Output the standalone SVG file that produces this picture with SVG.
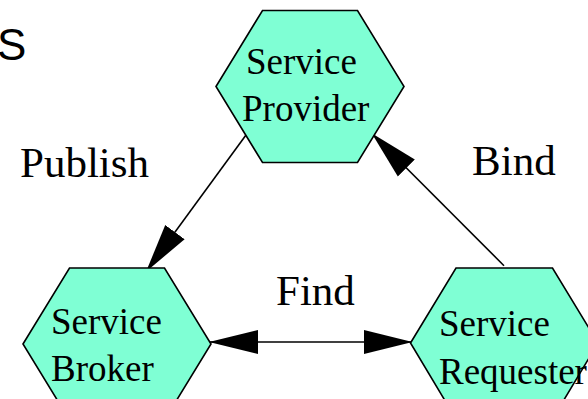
<svg xmlns="http://www.w3.org/2000/svg" width="588" height="399" viewBox="0 0 588 399">
  <style>
    .hex { fill: #7FFFD4; stroke: #000; stroke-width: 1.6; stroke-linejoin: miter; }
    .node-text { font-family: "Liberation Serif", "Times New Roman", serif; font-size: 37px; fill: #000; }
    .label { font-family: "Liberation Serif", "Times New Roman", serif; font-size: 43px; fill: #000; }
    .title { font-family: "Liberation Sans", Arial, sans-serif; font-size: 44px; fill: #000; }
    .edge { stroke: #000; stroke-width: 1.6; fill: none; }
  </style>
  <defs>
    <marker id="arrow" markerUnits="userSpaceOnUse" markerWidth="50" markerHeight="26" refX="49" refY="12" orient="auto-start-reverse" viewBox="0 0 50 24">
      <path d="M0,0 L49,12 L0,24 z" fill="#000"/>
    </marker>
  </defs>

  <rect width="588" height="399" fill="#fff"/>

  <text class="title" x="-3" y="60">S</text>

  <g id="connectors">
    <line class="edge" x1="246" y1="135" x2="146" y2="271.7" marker-end="url(#arrow)"/>
    <line class="edge" x1="504" y1="265.7" x2="371.7" y2="133.3" marker-end="url(#arrow)"/>
    <line class="edge" x1="209" y1="342" x2="412.5" y2="342" marker-start="url(#arrow)" marker-end="url(#arrow)"/>
  </g>

  <g id="service-provider">
    <path class="hex" d="M216,86.5 L262.5,10.5 L357.5,10.5 L404,86.5 L357.5,162.5 L262.5,162.5 Z"/>
    <text class="node-text" x="246" y="74">Service</text>
    <text class="node-text" x="242" y="121">Provider</text>
  </g>

  <g id="service-broker">
    <path class="hex" d="M23,344 L69.5,268 L164.5,268 L211,344 L164.5,420 L69.5,420 Z"/>
    <text class="node-text" x="51" y="334">Service</text>
    <text class="node-text" x="51" y="381">Broker</text>
  </g>

  <g id="service-requester">
    <path class="hex" d="M410.5,343 L456,268 L552.5,268 L598,343 L552.5,419 L456,419 Z"/>
    <text class="node-text" x="439" y="336">Service</text>
    <text class="node-text" x="439" y="384">Requester</text>
  </g>

  <g id="labels">
    <text class="label" x="20" y="177">Publish</text>
    <text class="label" x="472" y="175">Bind</text>
    <text class="label" x="276" y="305">Find</text>
  </g>
</svg>
